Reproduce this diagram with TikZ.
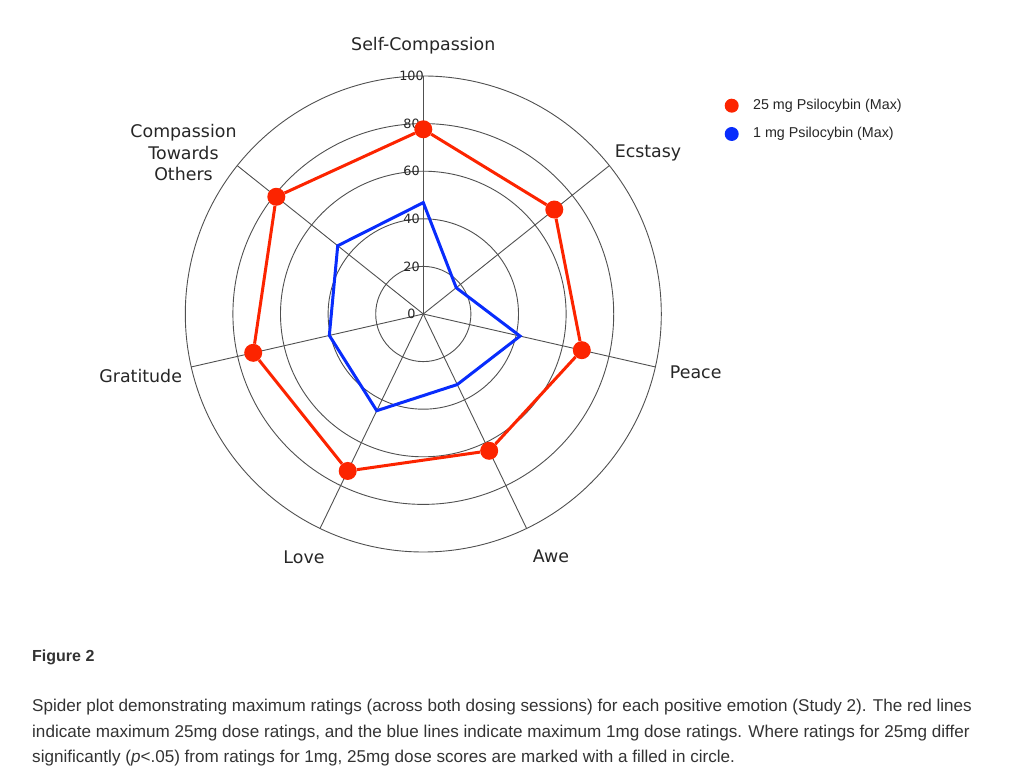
\documentclass[tikz,border=0pt]{standalone}
\usepackage{fontspec}
\setmainfont{Liberation Sans}
\newfontfamily\dejavu{DejaVu Sans}
\usetikzlibrary{positioning}
\definecolor{dosered}{RGB}{252,36,0}
\definecolor{doseblue}{RGB}{8,44,252}
\definecolor{gridgray}{RGB}{80,80,80}
\definecolor{textgray}{RGB}{38,38,38}
\tikzset{
	grid/.style={draw=gridgray, line width=0.9pt},
	redline/.style={draw=dosered, line width=3pt, line join=round},
	blueline/.style={draw=doseblue, line width=3pt, line join=miter},
	reddot/.style={circle, fill=dosered, inner sep=0pt, minimum size=18pt},
	keydot/.style={circle, inner sep=0pt, minimum size=14pt},
	axislabel/.style={font=\dejavu\fontsize{17.4}{21.5}\selectfont, text=textgray, inner sep=0pt},
	ticklabel/.style={font=\dejavu\fontsize{12.8}{15}\selectfont, text=textgray, inner sep=0pt},
	keytext/.style={font=\fontsize{14.3}{16}\selectfont, text=textgray, inner sep=0pt, anchor=west},
	captext/.style={font=\fontsize{17.1}{25.5}\selectfont, text=black!80, inner sep=0pt, align=left}
}
\begin{document}
\begin{tikzpicture}[x=1pt, y=1pt]
			\useasboundingbox (0,0) rectangle (1024,779);
			\coordinate (0) at (423.3,465);
		
			\foreach \r in {47.6,95.2,142.8,190.4,238}
				\draw[grid] (0) circle (\r);
			\foreach \k in {0,...,6}
				\draw[grid] (0) -- ++({90-\k*360/7}:238) coordinate (a\k);
	        
			\foreach \k/\t in {0/0,1/20,2/40,3/60,4/80,5/100}
				\node[ticklabel] (t\k) at (411.5,{465+\k*47.6}) {\t};
			
			\foreach \k/\v in {0/46.8,1/17.7,2/41.7,3/32.9,4/45.1,5/40.5,6/46.0}
				\path (0) ++({90-\k*360/7}:{\v*2.38}) coordinate (b\k);
			\draw[blueline] (b0) -- (b1) -- (b2) -- (b3) -- (b4) -- (b5) -- (b6) -- cycle;
			
			\foreach \k/\v in {0/77.6,1/70.4,2/68.3,3/63.8,4/73.2,5/73.3,6/79.0}
				\path (0) ++({90-\k*360/7}:{\v*2.38}) node[reddot] (r\k) {};
			\foreach \from / \to in {0/1,1/2,2/3,3/4,4/5,5/6,6/0}
				\draw[redline] (r\from) -- (r\to);
			
			\node[axislabel] (selfcomp) at (423.3,733) {Self-Compassion};
			\node[axislabel] (ecstasy) at (648,626.3) {Ecstasy};
			\node[axislabel] (peace) at (695.7,407) {Peace};
			\node[axislabel] (awe) at (551,222.3) {Awe};
			\node[axislabel] (love) at (304,222) {Love};
			\node[axislabel] (gratitude) at (140.7,403) {Gratitude};
			\node[axislabel, align=center] (others) at (183.5,626.3) {Compassion\\Towards\\Others};
			
			\node[keydot, fill=dosered] (key25) at (731.7,673.3) {};
			\node[keydot, fill=doseblue] (key1) at (731.7,645) {};
			\node[keytext, right=14pt of key25] (key25text) {25 mg Psilocybin (Max)};
			\node[keytext, right=14pt of key1] (key1text) {1 mg Psilocybin (Max)};
			
			\node[captext, anchor=base west, font=\bfseries\fontsize{16}{25.5}\selectfont] (figname) at (32,117.3) {Figure 2};
			\node[captext, anchor=base west] (caption) at (32,16.3) {Spider plot demonstrating maximum ratings (across both dosing sessions) for each positive emotion (Study 2). The red lines\\indicate maximum 25mg dose ratings, and the blue lines indicate maximum 1mg dose ratings. Where ratings for 25mg differ\\significantly (\textit{p}<.05) from ratings for 1mg, 25mg dose scores are marked with a filled in circle.};
		\end{tikzpicture}
\end{document}
